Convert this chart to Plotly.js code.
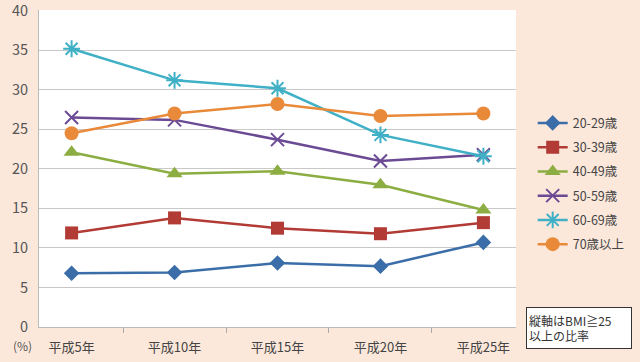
<!DOCTYPE html>
<html><head><meta charset="utf-8">
<script src="https://cdn.plot.ly/plotly-3.0.1.min.js"></script>
<style>html,body{margin:0;padding:0;background:#fce8db;}</style>
</head><body>
<div id="chart" style="width:640px;height:362px;"></div>
<script>
const categories = ["平成5年","平成10年","平成15年","平成20年","平成25年"];
const seriesNames = ["20-29歳","30-39歳","40-49歳","50-59歳","60-69歳","70歳以上"];
const v20s = [6.8, 6.9, 8.1, 7.7, 10.7];
const v30s = [11.9, 13.8, 12.5, 11.8, 13.2];
const v40s = [22.1, 19.4, 19.7, 18.0, 14.8];
const v50s = [26.5, 26.2, 23.7, 21.0, 21.8];
const v60s = [35.2, 31.2, 30.2, 24.3, 21.6];
const v70s = [24.5, 27.0, 28.2, 26.7, 27.0];
const yTicks = [0,5,10,15,20,25,30,35,40];

const allVals = [v20s, v30s, v40s, v50s, v60s, v70s];
const colors = ["#3b6ea8","#b23b36","#8cad42","#6b4a94","#3fb0c6","#e98a3a"];
const symbols = ["diamond","square","triangle-up","x-thin-open","asterisk-open","circle"];
const sizes = [12, 13, 14, 13, 14, 14];

const font = "'Noto Sans CJK JP', 'Noto Sans', sans-serif";
const traces = allVals.map((vals, i) => ({
  type: "scatter", mode: "lines+markers",
  x: categories, y: vals, name: seriesNames[i],
  legendgroup: "g" + i,
  line: {color: colors[i], width: 2.5},
  marker: {symbol: symbols[i], size: sizes[i], color: colors[i],
           line: {color: colors[i], width: (i===3||i===4) ? 2 : 0}}
}));

const layout = {
  width: 640, height: 362,
  margin: {l: 39, r: 122, t: 10, b: 35},
  paper_bgcolor: "#fce8db",
  plot_bgcolor: "#ffffff",
  font: {family: font, color: "#555"},
  showlegend: true,
  legend: {x: 1.035, y: 0.69, xanchor: "left", yanchor: "top",
           bgcolor: "rgba(0,0,0,0)", font: {size: 12.5, color: "#444"},
           tracegroupgap: 5, itemwidth: 30},
  xaxis: {type: "category", tickson: "boundaries", ticks: "outside", ticklen: 5,
          tickcolor: "#aaa", showline: true, linecolor: "#bbb", showgrid: false,
          tickfont: {size: 13, color: "#444"}, ticklabelstandoff: 8, fixedrange: true},
  yaxis: {range: [0, 40.1], tickvals: yTicks, showline: true, linecolor: "#bbb",
          gridcolor: "#c8c8c8", gridwidth: 1, zeroline: false, ticklabeloverflow: "allow",
          ticks: "", tickfont: {size: 14.5, color: "#555"}, ticklabelstandoff: 7},
  annotations: [
    {xref: "paper", yref: "paper", x: -0.01, y: -0.025, xanchor: "right", yanchor: "top",
     text: "(%)", showarrow: false, font: {size: 12, color: "#555"}},
    {xref: "paper", yref: "paper", x: 1.021, y: 0.063, xanchor: "left", yanchor: "top",
     text: "縦軸はBMI≧25<br>以上の比率", align: "left", showarrow: false,
     font: {size: 12, color: "#333"}, bordercolor: "#333", borderwidth: 1,
     bgcolor: "#ffffff", borderpad: 2, width: 100, height: 36}
  ]
};
Plotly.newPlot("chart", traces, layout, {displayModeBar: false, staticPlot: true});
</script>
</body></html>
